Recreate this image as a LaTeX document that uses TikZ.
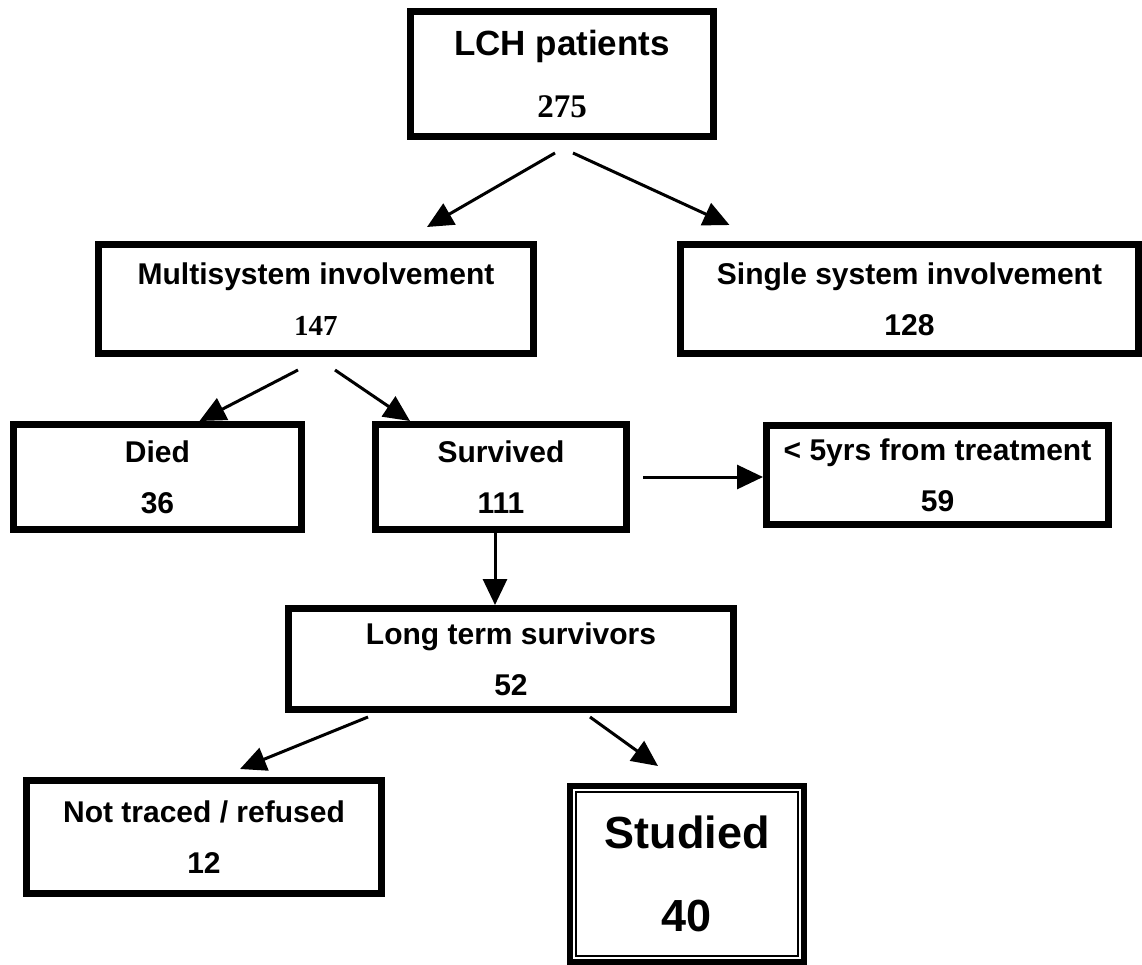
\documentclass[tikz,border=0pt]{standalone}
\usepackage{fontspec}
\setmainfont{Liberation Sans}
\newfontfamily\numserif{Liberation Serif}
\usetikzlibrary{arrows.meta,calc}

\begin{document}
\begin{tikzpicture}[x=0.5pt, y=-0.5pt,
    box/.style={draw, line width=3.5pt, align=center, inner sep=0pt,
      font=\fontsize{15}{25.5}\selectfont\bfseries},
    arr/.style={line width=1.5pt, -{Triangle[length=13pt,width=12pt]}}]
    \useasboundingbox (0,0) rectangle (1142,965);

    % Boxes
    \node[box, minimum width=151.5pt, minimum height=62.5pt,
      font=\fontsize{17.5}{31}\selectfont\bfseries] (lch) at (562,74)
      {LCH patients\\{\numserif\fontsize{16.5}{31}\selectfont 275}};
    \node[box, minimum width=217.5pt, minimum height=54.5pt] (multi) at (316,299)
      {Multisystem involvement\\{\numserif\fontsize{14.5}{25}\selectfont 147}};
    \node[box, minimum width=229pt, minimum height=54.5pt] (single) at (909.5,299)
      {Single system involvement\\128};
    \node[box, minimum width=144pt, minimum height=52.5pt] (died) at (157.5,477)
      {Died\\36};
    \node[box, minimum width=125.5pt, minimum height=52.5pt] (surv) at (501,477)
      {Survived\\111};
    \node[box, minimum width=171pt, minimum height=49.5pt] (five) at (937.5,475)
      {< 5yrs from treatment\\59};
    \node[box, minimum width=222.5pt, minimum height=50.5pt] (long) at (511,659)
      {Long term survivors\\52};
    \node[box, minimum width=177.5pt, minimum height=56.5pt] (nottr) at (204,837)
      {Not traced / refused\\12};
    \node[box, line width=3pt, minimum width=117pt, minimum height=88pt,
      font=\fontsize{22.5}{41.5}\selectfont\bfseries] (stud) at (687,874)
      {Studied\\40};
    \draw[line width=1pt] ([shift={(4.5pt,-4.5pt)}]stud.north west)
      rectangle ([shift={(-4.5pt,4.5pt)}]stud.south east);

    % Arrows
    \draw[arr] ($(lch.south)+(-7,13)$) -- ($(multi.north)+(111,-14)$);
    \draw[arr] ($(lch.south)+(11,13)$) -- ($(single.north)+(-180,-16)$);
    \draw[arr] ($(multi.south)+(-18,13)$) -- ($(died.north)+(42,0)$);
    \draw[arr] ($(multi.south)+(19,13)$) -- ($(surv.north)+(-91,0)$);
    \draw[arr] ($(surv.east)+(13,0)$) -- (five.west |- surv.east);
    \draw[arr] ([xshift=-3pt]surv.south) -- ([xshift=-3pt]surv.south |- long.north);
    \draw[arr] ($(long.south)+(-143,4)$) -- ($(nottr.north)+(36,-8)$);
    \draw[arr] ($(long.south)+(79,4)$) -- ($(stud.north)+(-29,-17)$);
\end{tikzpicture}
\end{document}
